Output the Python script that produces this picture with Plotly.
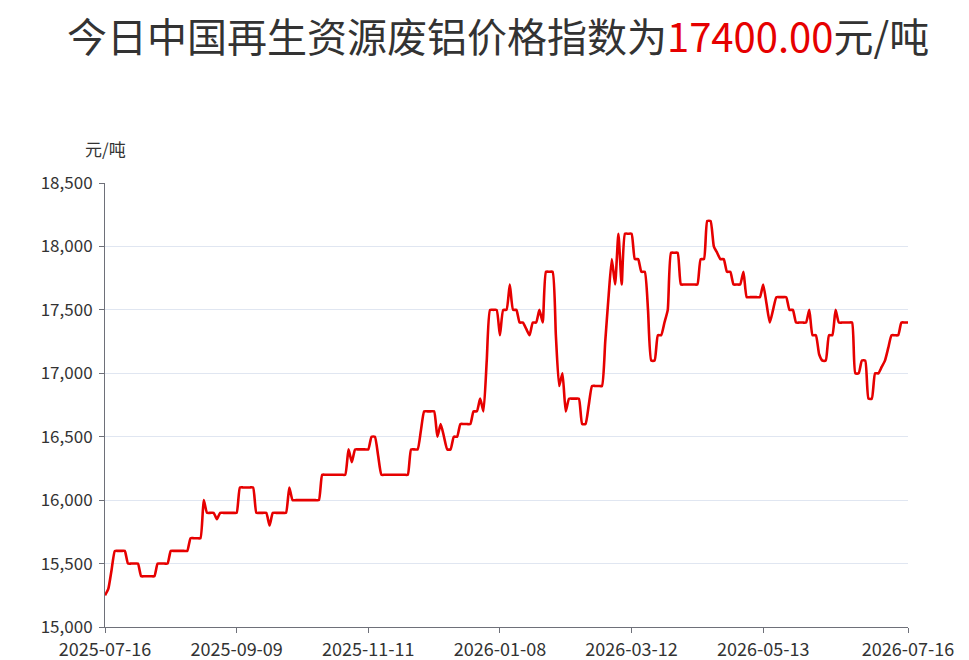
import plotly.graph_objects as go

# Daily index values (元/吨), one per trading day
values = [
    15250, 15300, 15450, 15600, 15600, 15600, 15600, 15500, 15500, 15500,
    15500, 15400, 15400, 15400, 15400, 15400, 15500, 15500, 15500, 15500,
    15600, 15600, 15600, 15600, 15600, 15600, 15700, 15700, 15700, 15700,
    16000, 15900, 15900, 15900, 15850, 15900, 15900, 15900, 15900, 15900,
    15900, 16100, 16100, 16100, 16100, 16100, 15900, 15900, 15900, 15900,
    15800, 15900, 15900, 15900, 15900, 15900, 16100, 16000, 16000, 16000,
    16000, 16000, 16000, 16000, 16000, 16000, 16200, 16200, 16200, 16200,
    16200, 16200, 16200, 16200, 16400, 16300, 16400, 16400, 16400, 16400,
    16400, 16500, 16500, 16350, 16200, 16200, 16200, 16200, 16200, 16200,
    16200, 16200, 16200, 16400, 16400, 16400, 16550, 16700, 16700, 16700,
    16700, 16500, 16600, 16500, 16400, 16400, 16500, 16500, 16600, 16600,
    16600, 16600, 16700, 16700, 16800, 16700, 17100, 17500, 17500, 17500,
    17300, 17500, 17500, 17700, 17500, 17500, 17400, 17400, 17350, 17300,
    17400, 17400, 17500, 17400, 17800, 17800, 17800, 17300, 16900, 17000,
    16700, 16800, 16800, 16800, 16800, 16600, 16600, 16750, 16900, 16900,
    16900, 16900, 17250, 17600, 17900, 17700, 18100, 17700, 18100, 18100,
    18100, 17900, 17900, 17800, 17800, 17500, 17100, 17100, 17300, 17300,
    17400, 17500, 17950, 17950, 17950, 17700, 17700, 17700, 17700, 17700,
    17700, 17900, 17900, 18200, 18200, 18000, 17950, 17900, 17900, 17800,
    17800, 17700, 17700, 17700, 17800, 17600, 17600, 17600, 17600, 17600,
    17700, 17550, 17400, 17500, 17600, 17600, 17600, 17600, 17500, 17500,
    17400, 17400, 17400, 17400, 17500, 17300, 17300, 17150, 17100, 17100,
    17300, 17300, 17500, 17400, 17400, 17400, 17400, 17400, 17000, 17000,
    17100, 17100, 16800, 16800, 17000, 17000, 17050, 17100, 17200, 17300,
    17300, 17300, 17400, 17400, 17400,
]

# Category positions of the labelled dates and their labels
tick_index = [0, 40, 80, 120, 160, 200, 244]
tick_labels = ["2025-07-16", "2025-09-09", "2025-11-11", "2026-01-08",
               "2026-03-12", "2026-05-13", "2026-07-16"]

y_ticks = [15000, 15500, 16000, 16500, 17000, 17500, 18000, 18500]

title_prefix = "今日中国再生资源废铝价格指数为"
latest_value = "17400.00"
unit = "元/吨"

FONT = "Noto Sans CJK SC, Microsoft YaHei, sans-serif"
AXIS_COLOR = "#6E7079"
TEXT_COLOR = "#333333"
RED = "#E60000"

x = list(range(len(values)))

fig = go.Figure()
fig.add_trace(go.Scatter(
    x=x, y=values, mode="lines",
    line=dict(color=RED, width=2.6, shape="spline", smoothing=0.5),
    hoverinfo="y", showlegend=False,
))

fig.update_layout(
    width=969, height=660,
    paper_bgcolor="white", plot_bgcolor="white",
    margin=dict(l=105, r=61, t=183, b=33),
    font=dict(family=FONT, color=TEXT_COLOR, size=17),
    title=dict(
        text=f"{title_prefix}<span style='color:{RED}'>{latest_value}</span>{unit}",
        x=0.514, xanchor="center", y=1 - 38 / 660, yanchor="middle",
        font=dict(family=FONT, size=40, color=TEXT_COLOR),
    ),
    xaxis=dict(
        range=[0, len(values) - 1],
        tickmode="array", tickvals=tick_index, ticktext=tick_labels,
        showgrid=False, zeroline=False, automargin=False,
        showline=True, linecolor=AXIS_COLOR, linewidth=1,
        ticks="outside", ticklen=5, tickcolor=AXIS_COLOR,
        ticklabelstandoff=1,
        tickfont=dict(size=18, color=TEXT_COLOR),
    ),
    yaxis=dict(
        range=[15000, 18500],
        tickmode="array", tickvals=y_ticks,
        tickformat=",",
        showgrid=True, gridcolor="#E0E6F1", gridwidth=1,
        zeroline=False, automargin=False,
        showline=True, linecolor=AXIS_COLOR, linewidth=1,
        ticks="outside", ticklen=5, tickcolor=AXIS_COLOR,
        ticklabelstandoff=3,
        tickfont=dict(size=17, color=TEXT_COLOR),
    ),
    annotations=[dict(
        text=unit, xref="paper", yref="paper", x=0, y=1,
        xanchor="center", yanchor="bottom", yshift=20, showarrow=False,
        font=dict(family=FONT, size=17, color=TEXT_COLOR),
    )],
)

fig.write_html("out.html")
